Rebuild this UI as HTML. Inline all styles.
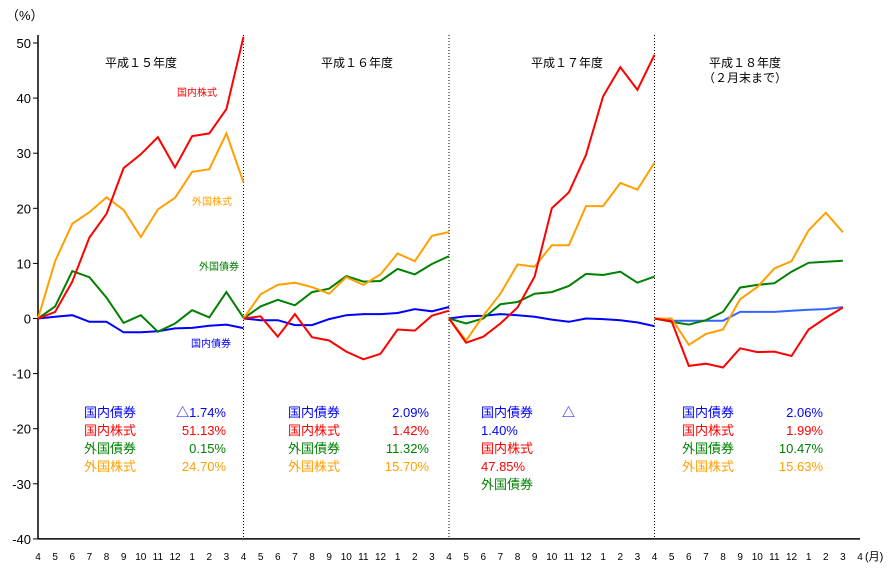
<!DOCTYPE html>
<html><head><meta charset="utf-8"><style>
body{margin:0;background:#fff;}
svg{display:block;font-family:"Liberation Sans","Noto Sans CJK JP",sans-serif;}
</style></head><body>
<svg id="chart" width="890" height="570" viewBox="0 0 890 570" xmlns="http://www.w3.org/2000/svg">
<text x="6" y="20" font-size="13">（%）</text>
<g id="axes"></g>
<g id="lines"></g>
<g font-size="12" fill="#000" text-anchor="middle">
<text x="141" y="67">平成１５年度</text>
<text x="357" y="67">平成１６年度</text>
<text x="567" y="67">平成１７年度</text>
<text x="745" y="67">平成１８年度</text>
<text x="745" y="82">（２月末まで）</text>
</g>
<g font-size="10">
<text x="177" y="96" fill="#ff0000">国内株式</text>
<text x="192" y="205" fill="#ffa000">外国株式</text>
<text x="199" y="270" fill="#008000">外国債券</text>
<text x="191" y="347" fill="#0000ff">国内債券</text>
</g>
<g font-size="13">
<g>
<text x="84" y="417" fill="#0000ff">国内債券</text><text x="226" y="417" fill="#0000ff" text-anchor="end">△1.74%</text>
<text x="84" y="435" fill="#ff0000">国内株式</text><text x="226" y="435" fill="#ff0000" text-anchor="end">51.13%</text>
<text x="84" y="453" fill="#008000">外国債券</text><text x="226" y="453" fill="#008000" text-anchor="end">0.15%</text>
<text x="84" y="471" fill="#ffa000">外国株式</text><text x="226" y="471" fill="#ffa000" text-anchor="end">24.70%</text>
</g>
<g>
<text x="288" y="417" fill="#0000ff">国内債券</text><text x="429" y="417" fill="#0000ff" text-anchor="end">2.09%</text>
<text x="288" y="435" fill="#ff0000">国内株式</text><text x="429" y="435" fill="#ff0000" text-anchor="end">1.42%</text>
<text x="288" y="453" fill="#008000">外国債券</text><text x="429" y="453" fill="#008000" text-anchor="end">11.32%</text>
<text x="288" y="471" fill="#ffa000">外国株式</text><text x="429" y="471" fill="#ffa000" text-anchor="end">15.70%</text>
</g>
<g>
<text x="481" y="417" fill="#0000ff">国内債券</text><text x="562" y="417" fill="#0000ff">△</text>
<text x="481" y="435" fill="#0000ff">1.40%</text>
<text x="481" y="453" fill="#ff0000">国内株式</text>
<text x="481" y="471" fill="#ff0000">47.85%</text>
<text x="481" y="489" fill="#008000">外国債券</text>
</g>
<g>
<text x="682" y="417" fill="#0000ff">国内債券</text><text x="823" y="417" fill="#0000ff" text-anchor="end">2.06%</text>
<text x="682" y="435" fill="#ff0000">国内株式</text><text x="823" y="435" fill="#ff0000" text-anchor="end">1.99%</text>
<text x="682" y="453" fill="#008000">外国債券</text><text x="823" y="453" fill="#008000" text-anchor="end">10.47%</text>
<text x="682" y="471" fill="#ffa000">外国株式</text><text x="823" y="471" fill="#ffa000" text-anchor="end">15.63%</text>
</g>
</g>
</svg>
<script>
const monthLabels=["4","5","6","7","8","9","10","11","12","1","2","3","4","5","6","7","8","9","10","11","12","1","2","3","4","5","6","7","8","9","10","11","12","1","2","3","4","5","6","7","8","9","10","11","12","1","2","3","4"];
const yTicks=[50,40,30,20,10,0,-10,-20,-30,-40];
const yearStarts=[0,12,24,36];
// each year: values from start (0) through end-of-period
const domBondY=[[0,0.3,0.6,-0.6,-0.6,-2.5,-2.5,-2.3,-1.8,-1.7,-1.3,-1.1,-1.74],[0,-0.3,-0.3,-1.2,-1.2,-0.1,0.6,0.8,0.8,1.0,1.7,1.3,2.09],[0,0.4,0.5,0.8,0.6,0.3,-0.2,-0.6,0,-0.1,-0.3,-0.7,-1.40],[0,-0.4,-0.4,-0.4,-0.4,1.2,1.2,1.2,1.4,1.6,1.7,2.06]];
const domStockY=[[0,1.2,6.7,14.7,19,27.3,29.8,32.9,27.4,33.1,33.6,38,51.13],[0,0.4,-3.3,0.8,-3.4,-4.0,-6.0,-7.4,-6.4,-2.0,-2.2,0.5,1.42],[0,-4.4,-3.3,-0.9,2.0,7.6,20,22.9,29.7,40.3,45.6,41.5,47.85],[0,-0.5,-8.6,-8.2,-8.9,-5.4,-6.1,-6.0,-6.8,-2.0,0.1,1.99]];
const forBondY=[[0,2.2,8.6,7.5,3.8,-0.8,0.6,-2.4,-0.9,1.5,0.2,4.8,0.15],[0,2.2,3.4,2.4,4.8,5.4,7.7,6.7,6.8,9.0,8.0,9.9,11.32],[0,-0.9,0,2.6,3.0,4.5,4.8,5.9,8.1,7.9,8.5,6.5,7.6],[0,-0.6,-1.1,-0.3,1.2,5.6,6.1,6.4,8.5,10.1,10.3,10.47]];
const forStockY=[[0,10.4,17.2,19.3,22,19.7,14.8,19.8,21.9,26.6,27.1,33.6,24.7],[0,4.4,6.1,6.5,5.7,4.5,7.5,6.1,8.0,11.8,10.4,15,15.7],[0,-4,0.5,4.5,9.8,9.4,13.3,13.3,20.4,20.4,24.6,23.4,28.3],[0,0,-4.8,-2.8,-2,3.5,5.7,9.1,10.4,16,19.2,15.63]];

const NS="http://www.w3.org/2000/svg";
const X0=38,DX=17.125,Y0=318.5,PY=5.51;
function xs(i){return X0+i*DX;}
function ys(v){return Y0-v*PY;}
function mk(tag,attrs,parent){const e=document.createElementNS(NS,tag);for(const k in attrs)e.setAttribute(k,attrs[k]);parent.appendChild(e);return e;}
const axes=document.getElementById('axes');
const lines=document.getElementById('lines');
let e=mk('line',{x1:X0,y1:35,x2:X0,y2:ys(-40),stroke:'#000','stroke-width':1.5},axes);


e=mk('line',{x1:X0,y1:ys(-40),x2:xs(48),y2:ys(-40),stroke:'#000','stroke-width':1.5},axes);


yTicks.forEach(v=>{
  mk('line',{x1:X0-5,y1:ys(v),x2:X0,y2:ys(v),stroke:'#000'},axes);
  const t=mk('text',{x:X0-7,y:ys(v)+5,'text-anchor':'end','font-size':13},axes);
  t.textContent=v;
  
  
});
monthLabels.forEach((m,i)=>{
  const t=mk('text',{x:xs(i),y:560,'text-anchor':'middle','font-size':10},axes);
  t.textContent=m;
  
  
});
const u=mk('text',{x:xs(48)+5,y:560,'font-size':11},axes);
u.textContent='(月)';


[12,24,36].forEach(i=>{
  const l=mk('line',{x1:xs(i),y1:35,x2:xs(i),y2:ys(-40),stroke:'#000','stroke-dasharray':'1,2'},axes);
  
  
});
function draw(data,colors,name){
  data.forEach((seg,y)=>{
    const pts=seg.map((v,k)=>xs(yearStarts[y]+k).toFixed(1)+','+ys(v).toFixed(1)).join(' ');
    const p=mk('polyline',{points:pts,fill:'none',stroke:colors[y],'stroke-width':2,'stroke-linejoin':'miter'},lines);
    
    
  });
}
draw(domBondY,['#0000ff','#0000ff','#0000ff','#3366ff'],'domestic-bond');
draw(forBondY,['#008000','#008000','#008000','#008000'],'foreign-bond');
draw(forStockY,['#ffa000','#ffa000','#ffa000','#ffa000'],'foreign-stock');
draw(domStockY,['#ff0000','#ff0000','#ff0000','#ff0000'],'domestic-stock');
</script>
</body></html>
